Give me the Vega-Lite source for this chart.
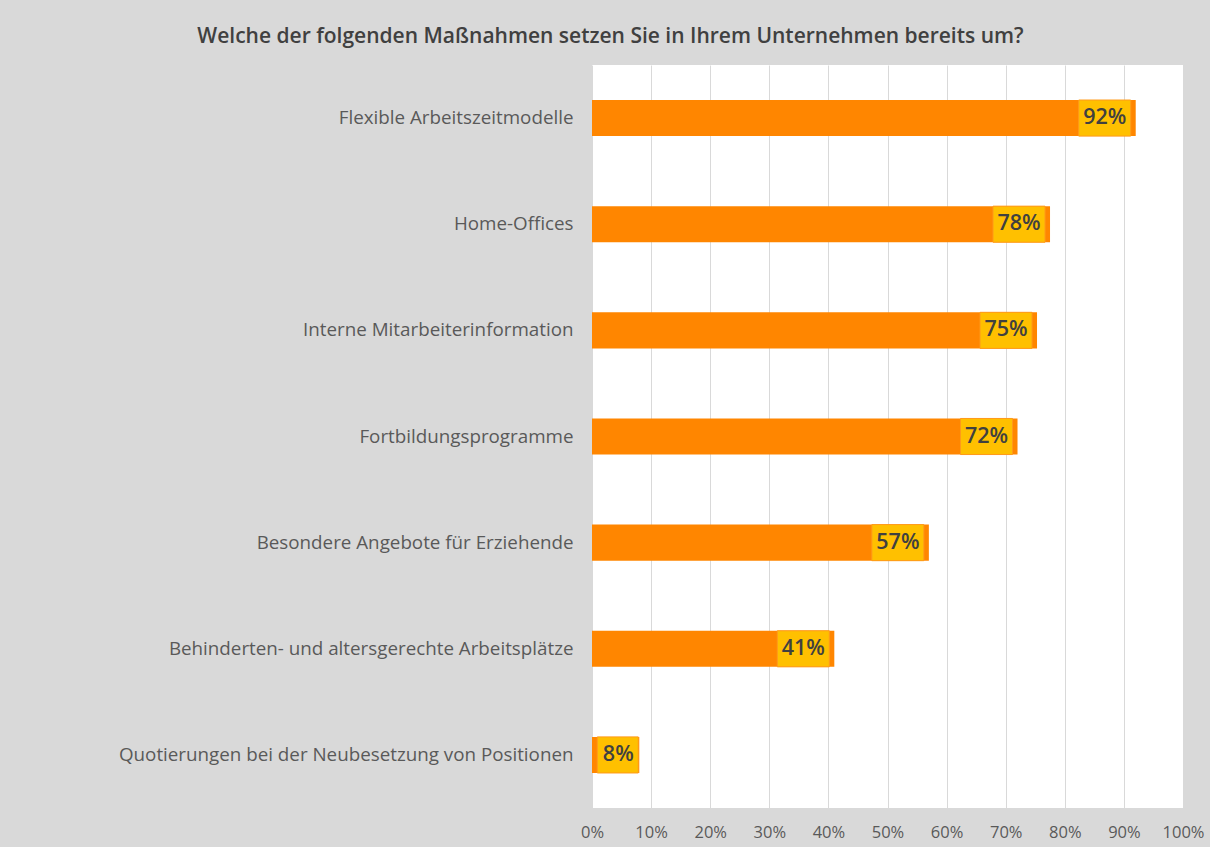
{
  "$schema": "https://vega.github.io/schema/vega-lite/v6.json",
  "width": 591,
  "height": 743,
  "autosize": {"type": "none"},
  "padding": {"left": 592, "top": 65, "right": 27, "bottom": 39},
  "background": "#d9d9d9",
  "view": {"fill": "#ffffff", "stroke": null},
  "title": {
    "text": "Welche der folgenden Maßnahmen setzen Sie in Ihrem Unternehmen bereits um?",
    "font": "Open Sans",
    "fontSize": 21,
    "fontWeight": 600,
    "color": "#404040",
    "anchor": "middle",
    "dx": -277,
    "offset": 18
  },
  "data": {
    "values": [
      {"measure": "Flexible Arbeitszeitmodelle", "value": 0.92},
      {"measure": "Home-Offices", "value": 0.775},
      {"measure": "Interne Mitarbeiterinformation", "value": 0.753},
      {"measure": "Fortbildungsprogramme", "value": 0.72},
      {"measure": "Besondere Angebote für Erziehende", "value": 0.57},
      {"measure": "Behinderten- und altersgerechte Arbeitsplätze", "value": 0.41},
      {"measure": "Quotierungen bei der Neubesetzung von Positionen", "value": 0.08}
    ]
  },
  "encoding": {
    "y": {
      "field": "measure",
      "type": "nominal",
      "sort": null,
      "scale": {"paddingInner": 0.66, "paddingOuter": 0.33},
      "axis": {
        "title": null,
        "domain": false,
        "ticks": false,
        "labelPadding": 19,
        "labelFont": "Open Sans",
        "labelFontSize": 18.8,
        "labelColor": "#595959",
        "labelLimit": 600
      }
    },
    "x": {
      "field": "value",
      "type": "quantitative",
      "scale": {"domain": [0, 1], "nice": false},
      "axis": {
        "title": null,
        "format": ".0%",
        "values": [0, 0.1, 0.2, 0.3, 0.4, 0.5, 0.6, 0.7, 0.8, 0.9, 1],
        "domain": false,
        "ticks": false,
        "grid": true,
        "gridColor": "#d9d9d9",
        "gridWidth": 1,
        "labelFlush": false,
        "labelPadding": 16,
        "labelFont": "Open Sans",
        "labelFontSize": 16.5,
        "labelColor": "#595959"
      }
    }
  },
  "layer": [
    {"mark": {"type": "bar", "color": "#ff8600"}},
    {
      "transform": [{"filter": "datum.value >= 0.1"}],
      "mark": {"type": "rect", "color": "#ffc000", "stroke": "#ff9a1a", "strokeWidth": 1, "xOffset": -57, "x2Offset": -5},
      "encoding": {"x2": {"field": "value"}}
    },
    {
      "transform": [{"filter": "datum.value < 0.1"}],
      "mark": {"type": "rect", "color": "#ffc000", "stroke": "#ff9a1a", "strokeWidth": 1, "xOffset": -42, "x2Offset": -1},
      "encoding": {"x2": {"field": "value"}}
    },
    {
      "transform": [{"filter": "datum.value >= 0.1"}],
      "mark": {"type": "text", "dx": -31, "align": "center", "baseline": "middle", "font": "Open Sans", "fontSize": 21.5, "fontWeight": 600, "color": "#404040"},
      "encoding": {"text": {"field": "value", "type": "quantitative", "format": ".0%"}}
    },
    {
      "transform": [{"filter": "datum.value < 0.1"}],
      "mark": {"type": "text", "dx": -21, "align": "center", "baseline": "middle", "font": "Open Sans", "fontSize": 21.5, "fontWeight": 600, "color": "#404040"},
      "encoding": {"text": {"field": "value", "type": "quantitative", "format": ".0%"}}
    }
  ]
}
